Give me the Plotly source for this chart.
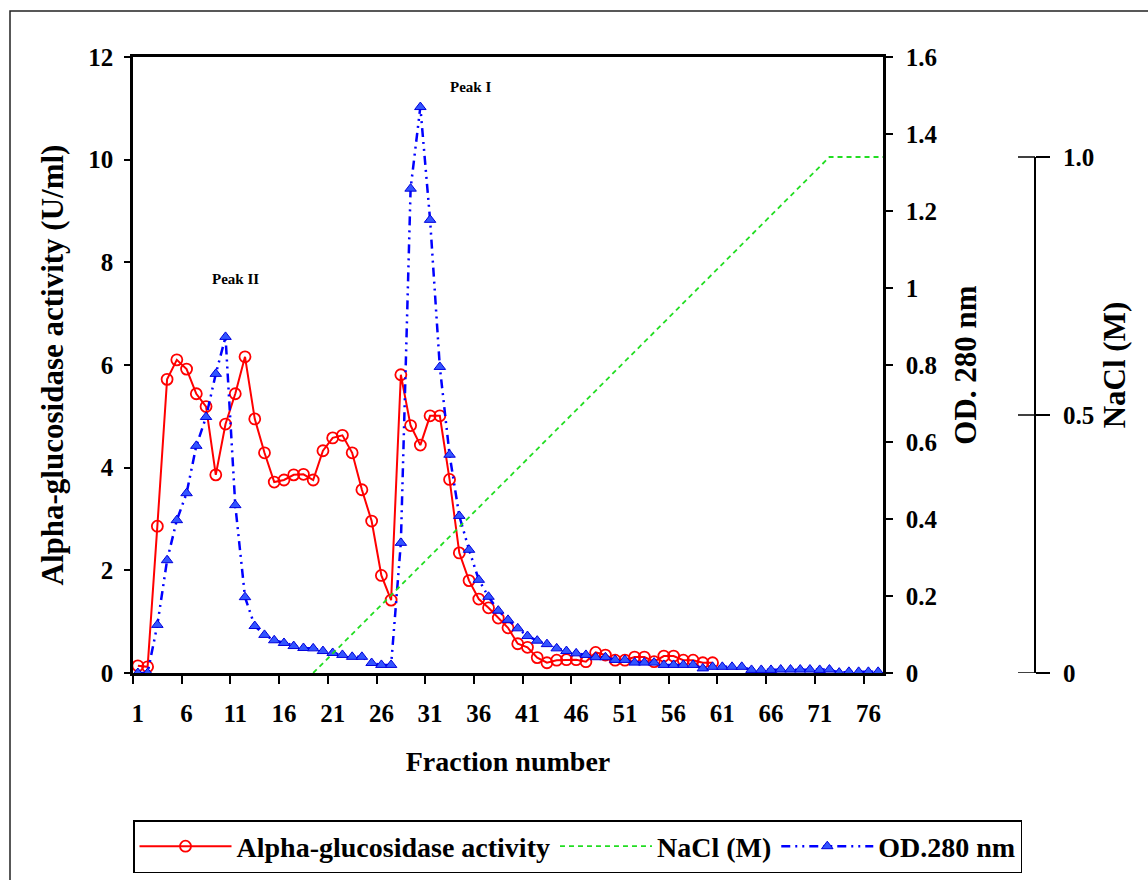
import plotly.graph_objects as go

# Fraction numbers
fractions = list(range(1, 78))

# Alpha-glucosidase activity (U/ml), fractions 1-60
activity = [0.14, 0.12, 2.86, 5.72, 6.10, 5.92, 5.44, 5.19, 3.86, 4.85,
            5.44, 6.16, 4.95, 4.29, 3.72, 3.76, 3.86, 3.87, 3.76, 4.33,
            4.58, 4.63, 4.29, 3.57, 2.96, 1.90, 1.42, 5.81, 4.82, 4.44,
            5.01, 5.01, 3.77, 2.34, 1.80, 1.44, 1.27, 1.07, 0.88, 0.57,
            0.50, 0.30, 0.20, 0.25, 0.26, 0.26, 0.22, 0.40, 0.35, 0.25,
            0.25, 0.31, 0.31, 0.22, 0.33, 0.33, 0.25, 0.25, 0.20, 0.20]

# OD 280 nm, fractions 1-77
od280 = [0.000, 0.000, 0.125, 0.293, 0.397, 0.467, 0.590, 0.665, 0.777, 0.873,
         0.436, 0.197, 0.122, 0.099, 0.085, 0.078, 0.070, 0.065, 0.064, 0.057,
         0.052, 0.047, 0.042, 0.042, 0.026, 0.021, 0.021, 0.338, 1.258, 1.470,
         1.177, 0.795, 0.567, 0.408, 0.320, 0.242, 0.198, 0.162, 0.138, 0.116,
         0.096, 0.084, 0.075, 0.064, 0.057, 0.051, 0.047, 0.041, 0.041, 0.034,
         0.034, 0.027, 0.027, 0.027, 0.021, 0.021, 0.021, 0.021, 0.012, 0.016,
         0.016, 0.016, 0.016, 0.008, 0.008, 0.008, 0.009, 0.009, 0.009, 0.009,
         0.008, 0.009, 0.001, 0.003, 0.003, 0.003, 0.003]

# NaCl linear gradient (M): start, end of gradient, end of run
nacl_fraction = [19, 72, 77.5]
nacl_conc = [0.0, 1.0, 1.0]

x_ticks = list(range(1, 78, 5))
nacl_ticks = [0, 0.5, 1.0]
nacl_ticktext = ["0", "0.5", "1.0"]

FONT = "Liberation Serif"
BLACK = "#000000"

fig = go.Figure()

fig.add_trace(go.Scatter(
    x=fractions[:len(activity)], y=activity, name="Alpha-glucosidase activity",
    mode="lines+markers", yaxis="y", legendrank=1,
    line=dict(color="#ff0000", width=2),
    marker=dict(symbol="circle-open", size=11, color="#ff0000",
                line=dict(color="#ff0000", width=1.8)),
))

fig.add_trace(go.Scatter(
    x=nacl_fraction, y=nacl_conc, name="NaCl (M)",
    mode="lines", yaxis="y3", legendrank=2,
    line=dict(color="#22dd22", width=1.8, dash="5px,4px"),
))

fig.add_trace(go.Scatter(
    x=fractions, y=od280, name="OD.280 nm",
    mode="lines+markers", yaxis="y2", legendrank=3,
    line=dict(color="#0000ff", width=2.5, dash="9px,5px,2px,5px,2px,5px"),
    marker=dict(symbol="triangle-up", size=10, color="#3355ff",
                line=dict(color="#0000dd", width=1)),
))

# Plot area in pixels: x 133-883, y 57-673 ; paper: x 10-1138, y 11-870
PW, PH = 1128, 859
def px(x):
    return (x - 10) / PW
def py(y):
    return (870 - y) / PH

# NaCl scale: 0 M sits on the baseline, 1.0 M at 157 px
NACL_TOP = (673 - 57) / (673 - 157)
NACL_X = px(1035)

tickfont = dict(family=FONT, size=25, color=BLACK, weight="bold")
xtitlefont = dict(family=FONT, size=28, color=BLACK, weight="bold")
ytitlefont = dict(family=FONT, size=31, color=BLACK, weight="bold")

shapes = [
    # outer chart frame
    dict(type="rect", xref="paper", yref="paper",
         x0=0, x1=1.05, y0=-0.05, y1=1,
         line=dict(color="#222222", width=1.5), fillcolor="rgba(0,0,0,0)",
         layer="below"),
    # NaCl axis line, 0 to 1.0 M
    dict(type="line", xref="paper", yref="y3",
         x0=NACL_X, x1=NACL_X, y0=0, y1=1.0,
         line=dict(color=BLACK, width=2)),
]
# left half of the crossing NaCl tick marks
for v in nacl_ticks:
    shapes.append(dict(type="line", xref="paper", yref="y3",
                       x0=px(1018), x1=NACL_X, y0=v, y1=v,
                       line=dict(color=BLACK, width=1.5)))

fig.update_layout(
    width=1148, height=880,
    margin=dict(l=10, r=10, t=11, b=10, autoexpand=False),
    paper_bgcolor="white", plot_bgcolor="rgba(0,0,0,0)",
    font=dict(family=FONT, color=BLACK),
    showlegend=True,
    xaxis=dict(
        domain=[px(133), px(883)], range=[0.5, 77.5],
        tickmode="array", tickvals=x_ticks, ticks="",
        ticklabelstandoff=16,
        minor=dict(tick0=0.5, dtick=5, ticks="outside", ticklen=8,
                   tickwidth=1.5, tickcolor=BLACK),
        showgrid=False, zeroline=False,
        showline=True, linecolor=BLACK, linewidth=2.5, mirror=True,
        tickfont=tickfont,
        title=dict(text="Fraction number", font=xtitlefont, standoff=26),
    ),
    yaxis=dict(
        domain=[py(673), py(57)], range=[0, 12],
        tickmode="array", tickvals=[0, 2, 4, 6, 8, 10, 12],
        ticks="outside", ticklen=6, tickwidth=1.5, tickcolor=BLACK,
        ticklabelstandoff=6,
        showgrid=False, zeroline=False,
        showline=True, linecolor=BLACK, linewidth=2.5,
        tickfont=tickfont,
        title=dict(text="Alpha-glucosidase activity (U/ml)", font=ytitlefont,
                   standoff=16),
    ),
    yaxis2=dict(
        overlaying="y", side="right", anchor="x", range=[0, 1.6],
        tickmode="array", tickvals=[0, 0.2, 0.4, 0.6, 0.8, 1, 1.2, 1.4, 1.6],
        ticks="outside", ticklen=7, tickwidth=1.5, tickcolor=BLACK,
        ticklabelstandoff=8,
        showgrid=False, zeroline=False,
        showline=True, linecolor=BLACK, linewidth=2.5,
        tickfont=tickfont,
        title=dict(text="OD. 280 nm", font=ytitlefont, standoff=18),
    ),
    yaxis3=dict(
        overlaying="y", anchor="free", position=NACL_X, side="right",
        range=[0, NACL_TOP],
        tickmode="array", tickvals=nacl_ticks, ticktext=nacl_ticktext,
        ticks="outside", ticklen=14, tickwidth=1.5, tickcolor=BLACK,
        ticklabelstandoff=8,
        showgrid=False, zeroline=False, showline=False,
        tickfont=tickfont,
        title=dict(text="NaCl (M)", font=ytitlefont, standoff=10),
    ),
    legend=dict(
        orientation="h", x=px(133), xanchor="left", y=py(820), yanchor="top",
        bgcolor="white", bordercolor=BLACK, borderwidth=1.5,
        font=dict(family=FONT, size=28, color=BLACK, weight="bold"),
        itemwidth=92,
    ),
    annotations=[
        dict(text="Peak I", x=35.1, y=11.42, xref="x", yref="y", showarrow=False,
             font=dict(family=FONT, size=15, color=BLACK, weight="bold")),
        dict(text="Peak II", x=11.0, y=7.68, xref="x", yref="y", showarrow=False,
             font=dict(family=FONT, size=15, color=BLACK, weight="bold")),
    ],
    shapes=shapes,
)

fig.write_html("out.html")
